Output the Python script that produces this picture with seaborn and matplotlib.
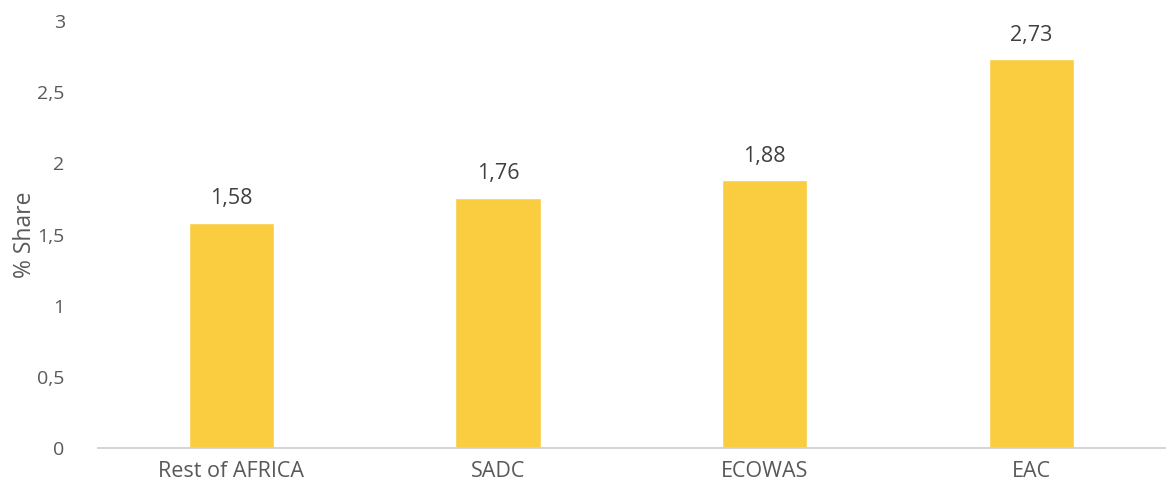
import matplotlib
matplotlib.use("Agg")
import matplotlib.pyplot as plt
import seaborn as sns
import pandas as pd
from matplotlib.ticker import FuncFormatter, MultipleLocator

categories = ["Rest of AFRICA", "SADC", "ECOWAS", "EAC"]
values = [1.58, 1.76, 1.88, 2.73]

sns.set_style("white")
plt.rcParams['font.family'] = ['Open Sans', 'DejaVu Sans']

df = pd.DataFrame({"region": categories, "share": values})

fig = plt.figure(figsize=(11.67, 4.94), dpi=100)
ax = fig.add_axes([0.084, 0.093, 0.914, 0.8645])
sns.barplot(data=df, x="region", y="share", color="#FACD40", saturation=1,
            width=0.32, ax=ax)

ax.set_ylim(0, 3)
ax.yaxis.set_major_locator(MultipleLocator(0.5))
def fmt(v, pos):
    s = ("%g" % v).replace(".", ",")
    return s
ax.yaxis.set_major_formatter(FuncFormatter(fmt))

for i, v in enumerate(values):
    ax.annotate(("%.2f" % v).replace(".", ","), (i, v), xytext=(0, 10),
                textcoords="offset points", ha="center", va="bottom",
                fontsize=15.5, color="#404040")

for s in ["top", "right", "left"]:
    ax.spines[s].set_visible(False)
ax.spines["bottom"].set_color("#D0D0D0")
ax.spines["bottom"].set_linewidth(1.3)
ax.tick_params(axis="y", length=0, pad=24, labelsize=14, labelcolor="#595959")
ax.tick_params(axis="x", length=0, pad=9, labelsize=15.5, labelcolor="#595959")
ax.set_xlabel("")
ax.set_ylabel("% Share", fontsize=16.5, color="#595959", labelpad=0)
ax.set_xlim(-0.5, 3.5)

fig.savefig("out.png", dpi=100)
